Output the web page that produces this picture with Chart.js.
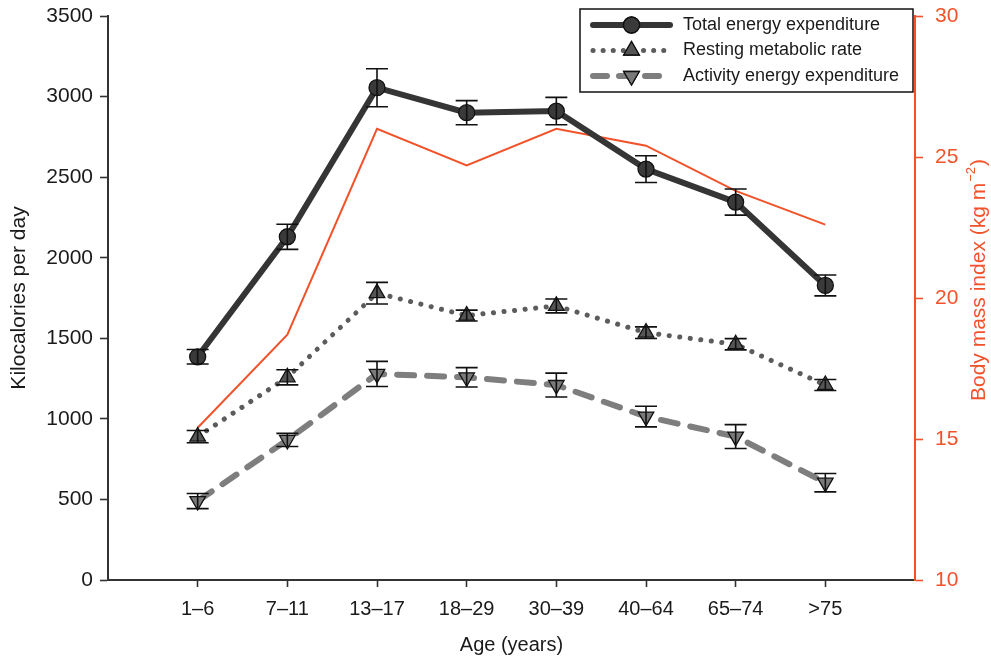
<!DOCTYPE html>
<html>
<head>
<meta charset="utf-8">
<script src="https://cdn.jsdelivr.net/npm/chart.js@4"></script>
<style>
  html, body { margin: 0; padding: 0; background: #fff; }
  #wrap { width: 991px; height: 657px; }
</style>
</head>
<body>
<div id="wrap"><canvas id="chart"></canvas></div>
<script>
// Age groups along the x axis
const ageGroups = ['1–6', '7–11', '13–17', '18–29', '30–39', '40–64', '65–74', '>75'];

// kcal per day
const totalEnergy = [1385, 2130, 3055, 2900, 2910, 2550, 2345, 1828];
const totalEnergyErr = [45, 78, 118, 75, 85, 83, 81, 65];
const restingRate = [890, 1258, 1780, 1641, 1701, 1535, 1463, 1210];
const restingRateErr = [38, 47, 67, 34, 43, 36, 35, 34];
const activityEnergy = [490, 869, 1279, 1258, 1210, 1014, 890, 604];
const activityEnergyErr = [47, 41, 78, 60, 74, 64, 74, 57];

// BMI, right axis
const bmi = [15.4, 18.7, 26.0, 24.7, 26.0, 25.4, 23.8, 22.6];

const kcalTicks = [0, 500, 1000, 1500, 2000, 2500, 3000, 3500];
const bmiTicks = [10, 15, 20, 25, 30];

const orange = '#f2522a';
const font = 'Liberation Sans, Arial, Helvetica, sans-serif';

const toPoints = (vals) => vals.map((v, i) => ({ x: i + 1, y: v }));

// fixed axis sizes so the plot box lands where the original one is
const fixWidth = (w) => (axis) => { axis.width = w; axis.paddingTop = 0; axis.paddingBottom = 0; };

// error bars with caps
const errorBars = {
  id: 'errorBars',
  afterDatasetsDraw(chart) {
    const ctx = chart.ctx;
    chart.data.datasets.forEach((ds, i) => {
      if (!ds.errors) return;
      const meta = chart.getDatasetMeta(i);
      const scale = chart.scales[ds.yAxisID || 'y'];
      ctx.save();
      ctx.strokeStyle = '#111';
      ctx.lineWidth = 1.6;
      meta.data.forEach((pt, j) => {
        const v = ds.data[j].y, e = ds.errors[j];
        const top = scale.getPixelForValue(v + e);
        const bot = scale.getPixelForValue(v - e);
        ctx.beginPath();
        ctx.moveTo(pt.x, top); ctx.lineTo(pt.x, bot);
        ctx.moveTo(pt.x - 11, top); ctx.lineTo(pt.x + 11, top);
        ctx.moveTo(pt.x - 11, bot); ctx.lineTo(pt.x + 11, bot);
        ctx.stroke();
      });
      ctx.restore();
    });
  }
};

// legend box with line samples, top right inside the plot
const lineLegend = {
  id: 'lineLegend',
  afterDraw(chart) {
    const ctx = chart.ctx;
    const area = chart.chartArea;
    const entries = chart.data.datasets.filter(ds => ds.inLegend);
    const boxR = area.right - 2, boxL = boxR - 333, boxT = area.top - 7, boxH = 83;
    ctx.save();
    ctx.fillStyle = '#fff';
    ctx.fillRect(boxL, boxT, boxR - boxL, boxH);
    ctx.strokeStyle = '#111';
    ctx.lineWidth = 1.5;
    ctx.strokeRect(boxL, boxT, boxR - boxL, boxH);
    entries.forEach((ds, k) => {
      const y = boxT + 16 + k * 25.5;
      const x0 = boxL + 13, x1 = boxL + 90, xm = (x0 + x1) / 2;
      ctx.save();
      ctx.strokeStyle = ds.borderColor;
      ctx.lineWidth = ds.borderWidth;
      ctx.lineCap = ds.borderCapStyle || 'butt';
      ctx.setLineDash(ds.legendDash || []);
      ctx.beginPath();
      ctx.moveTo(x0, y); ctx.lineTo(x1, y);
      ctx.stroke();
      ctx.restore();
      Chart.helpers.drawPoint(ctx, {
        pointStyle: ds.pointStyle, rotation: ds.pointRotation || 0,
        radius: ds.pointRadius, borderWidth: 1.3
      }, xm, y);
      ctx.fillStyle = ds.pointBackgroundColor;
      ctx.strokeStyle = '#111';
      ctx.lineWidth = 1.3;
      ctx.fill(); ctx.stroke();
      ctx.fillStyle = '#1a1a1a';
      ctx.font = '18px ' + font;
      ctx.textBaseline = 'middle';
      ctx.textAlign = 'left';
      ctx.fillText(ds.label, boxL + 103, y);
    });
    ctx.restore();
  }
};

// right-hand title, reads bottom to top, with superscript
const bmiTitle = {
  id: 'bmiTitle',
  afterDraw(chart) {
    const ctx = chart.ctx;
    const main = 'Body mass index (kg m', sup = '−2', tail = ')';
    ctx.save();
    ctx.translate(979, 281);
    ctx.rotate(-Math.PI / 2);
    ctx.fillStyle = orange;
    ctx.textBaseline = 'middle';
    ctx.textAlign = 'left';
    ctx.font = '21px ' + font;
    const wMain = ctx.measureText(main).width, wTail = ctx.measureText(tail).width;
    ctx.font = '13px ' + font;
    const wSup = ctx.measureText(sup).width;
    let x = -(wMain + wSup + wTail) / 2;
    ctx.font = '21px ' + font;
    ctx.fillText(main, x, 0);
    x += wMain + 1;
    ctx.font = '13px ' + font;
    ctx.fillText(sup, x, -8);
    x += wSup + 1;
    ctx.font = '21px ' + font;
    ctx.fillText(tail, x, 0);
    ctx.restore();
  }
};

new Chart(document.getElementById('chart'), {
  type: 'line',
  data: {
    datasets: [
      {
        label: 'Total energy expenditure',
        data: toPoints(totalEnergy), errors: totalEnergyErr, inLegend: true,
        borderColor: '#353535', borderWidth: 6, borderCapStyle: 'round',
        pointStyle: 'circle', pointRadius: 8, pointBackgroundColor: '#3a3a3a',
        pointBorderColor: '#111', pointBorderWidth: 1.3, order: 1
      },
      {
        label: 'Resting metabolic rate',
        data: toPoints(restingRate), errors: restingRateErr, inLegend: true,
        borderColor: '#5c5c5c', borderWidth: 5, borderCapStyle: 'round',
        borderDash: [0.1, 10.5], legendDash: [0.1, 10],
        pointStyle: 'triangle', pointRadius: 9, pointBackgroundColor: '#555',
        pointBorderColor: '#111', pointBorderWidth: 1.3, order: 2
      },
      {
        label: 'Activity energy expenditure',
        data: toPoints(activityEnergy), errors: activityEnergyErr, inLegend: true,
        borderColor: '#7e7e7e', borderWidth: 6, borderCapStyle: 'round',
        borderDash: [17, 13], legendDash: [14, 12],
        pointStyle: 'triangle', pointRotation: 180, pointRadius: 9, pointBackgroundColor: '#7a7a7a',
        pointBorderColor: '#111', pointBorderWidth: 1.3, order: 3
      },
      {
        label: 'Body mass index',
        data: toPoints(bmi), yAxisID: 'y2',
        borderColor: orange, borderWidth: 2, pointRadius: 0, order: 4
      }
    ]
  },
  options: {
    responsive: true,
    maintainAspectRatio: false,
    animation: false,
    layout: { padding: { top: 16, left: 0, right: 0, bottom: 0 } },
    plugins: { legend: { display: false }, tooltip: { enabled: false } },
    elements: { line: { tension: 0 } },
    scales: {
      x: {
        type: 'linear', min: 0, max: 9,
        afterBuildTicks: (axis) => { axis.ticks = ageGroups.map((c, i) => ({ value: i + 1 })); },
        afterFit: (axis) => { axis.height = 77; axis.paddingLeft = 0; axis.paddingRight = 0; },
        ticks: {
          autoSkip: false, maxRotation: 0, padding: 10, color: '#1a1a1a',
          font: { family: font, size: 20 },
          callback: (v) => ageGroups[v - 1]
        },
        grid: { drawOnChartArea: false, drawTicks: true, tickLength: 7, tickColor: '#333', tickWidth: 1.6 },
        border: { color: '#333', width: 2 },
        title: {
          display: true, text: 'Age (years)', color: '#1a1a1a',
          font: { family: font, size: 20 }, padding: { top: 0, bottom: 0 }
        }
      },
      y: {
        position: 'left', min: 0, max: 3500,
        afterBuildTicks: (axis) => { axis.ticks = kcalTicks.map(v => ({ value: v })); },
        afterFit: fixWidth(108),
        ticks: {
          padding: 7, color: '#1a1a1a', font: { family: font, size: 21 },
          callback: (v) => String(v)
        },
        grid: { drawOnChartArea: false, drawTicks: true, tickLength: 8, tickColor: '#333', tickWidth: 1.6 },
        border: { color: '#333', width: 2 },
        title: {
          display: true, text: 'Kilocalories per day', color: '#1a1a1a',
          font: { family: font, size: 21 }, padding: { top: 7, bottom: 0 }
        }
      },
      y2: {
        position: 'right', min: 10, max: 30,
        afterBuildTicks: (axis) => { axis.ticks = bmiTicks.map(v => ({ value: v })); },
        afterFit: fixWidth(76),
        ticks: {
          padding: 12, color: orange, font: { family: font, size: 21 },
          callback: (v) => String(v)
        },
        grid: { drawOnChartArea: false, drawTicks: true, tickLength: 8, tickColor: orange, tickWidth: 1.6 },
        border: { color: orange, width: 2 }
      }
    }
  },
  plugins: [errorBars, lineLegend, bmiTitle]
});
</script>
</body>
</html>
